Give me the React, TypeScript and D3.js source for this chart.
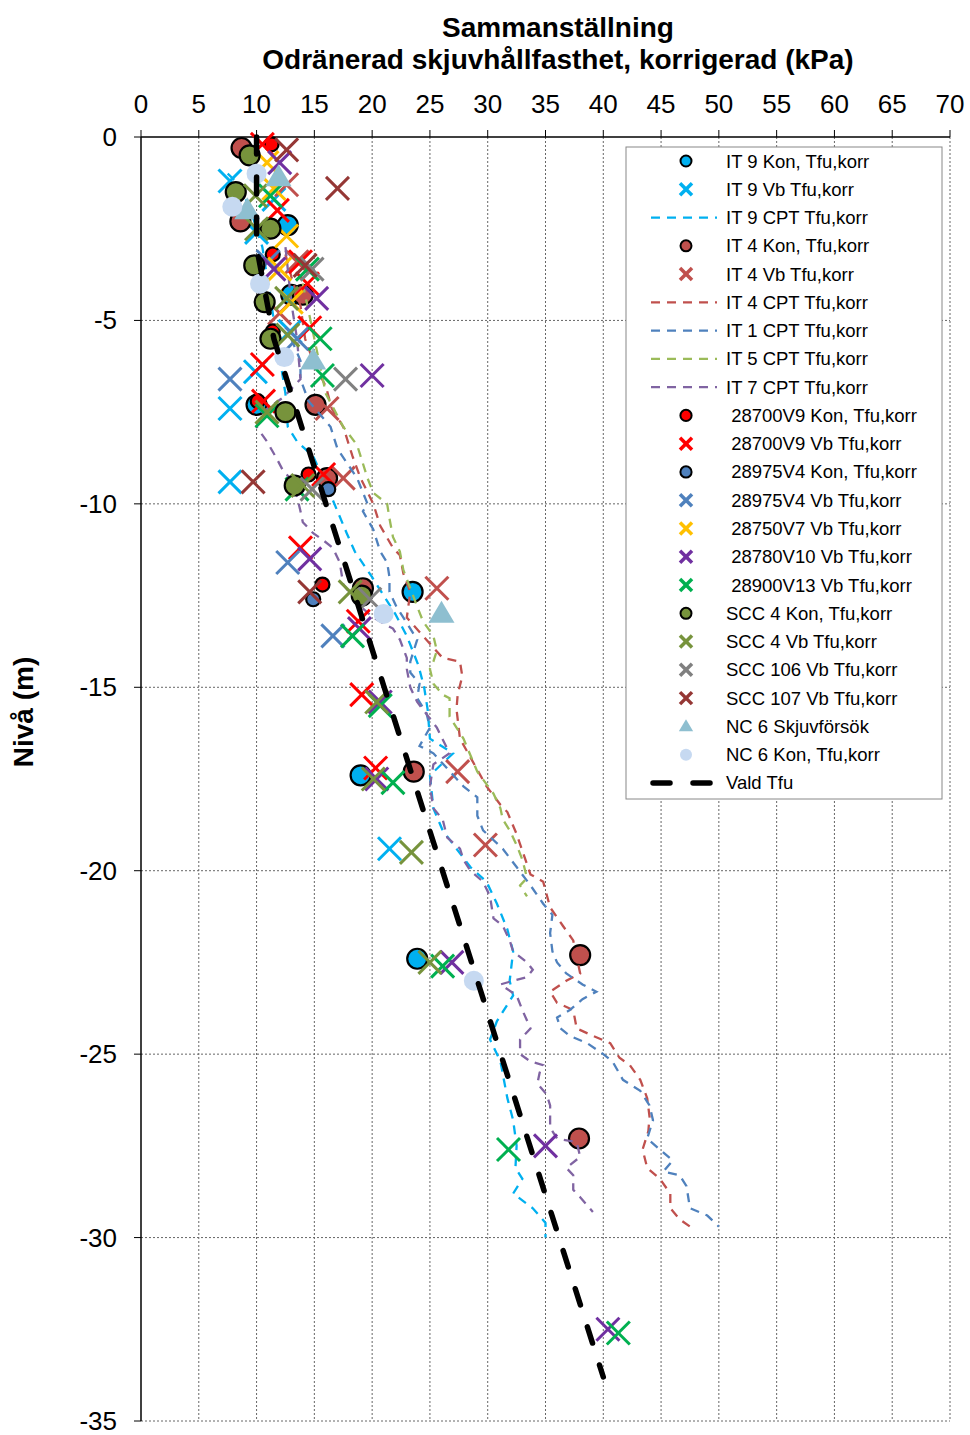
import React from 'react';
import * as d3 from 'd3';

type P = [number, number];

const xTicks = [0, 5, 10, 15, 20, 25, 30, 35, 40, 45, 50, 55, 60, 65, 70];
const yTicks = [0, -5, -10, -15, -20, -25, -30, -35];

const it9Kon: P[] = [[12.7, -2.4], [13.0, -4.3], [10.0, -7.3], [23.5, -12.4], [19.0, -17.4], [23.9, -22.4]];
const it9Vb: P[] = [[7.7, -1.2], [11.5, -1.7], [10.0, -2.6], [12.9, -5.3], [9.9, -6.4], [7.7, -7.4], [7.7, -9.4], [21.5, -19.4]];
const it9Cpt: P[] = [[7.5, -1.0], [8.5, -1.3], [9.5, -2.0], [10.5, -3.0], [11.0, -4.0], [11.5, -5.0], [12.0, -6.0], [12.5, -7.0], [12.7, -7.9], [13.5, -8.3], [14.9, -8.7], [16.6, -9.9], [17.8, -10.8], [18.5, -11.3], [20.0, -12.0], [21.0, -12.5], [22.0, -13.0], [23.0, -13.6], [24.0, -14.4], [24.5, -15.0], [24.8, -15.6], [25.0, -16.4], [27.0, -16.8], [25.0, -17.4], [25.3, -18.3], [26.1, -18.9], [27.3, -19.4], [28.5, -19.9], [29.9, -20.3], [30.8, -20.9], [31.7, -21.6], [32.2, -22.2], [31.9, -23.0], [32.2, -23.4], [30.8, -24.1], [30.2, -24.6], [31.1, -25.2], [31.7, -26.2], [32.2, -26.8], [32.5, -27.5], [32.4, -28.1], [33.0, -28.4], [32.2, -28.8], [33.9, -29.2], [35.0, -29.6], [35.0, -30.0]];
const it4Kon: P[] = [[8.7, -0.3], [8.6, -2.3], [14.0, -4.3], [15.1, -7.3], [16.1, -9.3], [19.2, -12.3], [23.6, -17.3], [38.0, -22.3], [37.9, -27.3]];
const it4Vb: P[] = [[12.6, -1.3], [13.5, -3.4], [12.0, -4.8], [16.1, -7.4], [17.5, -9.3], [25.6, -12.3], [27.4, -17.3], [29.8, -19.3]];
const it4Cpt: P[] = [[12.5, -3.2], [13.0, -3.8], [13.8, -4.6], [14.2, -5.5], [15.0, -6.2], [16.0, -6.8], [16.5, -7.4], [17.5, -7.9], [18.3, -8.7], [19.0, -9.3], [20.1, -10.0], [20.7, -10.6], [21.8, -11.2], [22.4, -11.4], [22.7, -11.9], [23.3, -12.4], [23.0, -13.1], [24.4, -13.6], [26.1, -14.2], [27.6, -14.3], [27.8, -14.7], [27.4, -15.2], [27.3, -15.6], [27.6, -16.4], [29.9, -17.7], [31.1, -18.2], [31.7, -18.4], [32.5, -19.0], [33.7, -20.1], [34.8, -20.3], [35.4, -21.0], [36.5, -21.5], [37.4, -21.9], [38.0, -22.8], [36.8, -23.0], [35.4, -23.3], [36.0, -23.6], [37.4, -23.8], [37.7, -24.3], [39.1, -24.5], [40.6, -24.7], [41.4, -25.1], [42.3, -25.3], [43.2, -25.7], [43.8, -26.2], [44.0, -26.7], [43.9, -27.1], [43.4, -27.6], [43.8, -28.1], [44.9, -28.4], [45.8, -28.8], [45.8, -29.2], [46.6, -29.5], [47.5, -29.7]];
const it1Cpt: P[] = [[13.0, -5.5], [13.8, -6.1], [13.8, -6.6], [14.5, -7.2], [16.4, -7.9], [17.0, -8.5], [18.7, -9.3], [19.6, -10.0], [19.2, -10.2], [20.1, -10.7], [20.7, -11.3], [21.3, -11.6], [21.5, -12.0], [21.5, -12.4], [22.1, -12.8], [23.9, -13.7], [23.3, -14.3], [23.3, -14.6], [24.1, -14.9], [23.9, -15.3], [24.7, -15.7], [25.0, -16.1], [24.1, -16.6], [25.3, -16.8], [27.9, -17.7], [29.1, -18.0], [29.1, -18.5], [29.6, -18.9], [31.3, -19.4], [32.5, -19.9], [33.7, -20.4], [34.8, -20.9], [35.6, -21.2], [35.4, -21.7], [35.6, -22.2], [36.0, -22.5], [36.8, -22.8], [38.2, -23.1], [39.4, -23.3], [38.2, -23.5], [37.1, -23.8], [36.0, -24.0], [36.3, -24.3], [37.1, -24.5], [38.6, -24.7], [40.0, -25.0], [40.8, -25.2], [41.7, -25.7], [43.2, -26.0], [44.0, -26.4], [44.3, -26.8], [43.8, -27.3], [44.9, -27.6], [46.0, -27.9], [45.2, -28.2], [46.6, -28.3], [47.2, -28.6], [47.5, -29.2], [49.0, -29.4], [50.0, -29.7]];
const it5Cpt: P[] = [[14.0, -4.0], [15.0, -5.5], [16.0, -7.0], [17.5, -7.9], [18.7, -8.4], [19.2, -8.9], [19.6, -9.3], [20.1, -9.7], [21.3, -10.0], [21.5, -10.4], [21.8, -10.9], [22.4, -11.3], [22.7, -11.8], [23.3, -12.3], [23.9, -12.8], [24.4, -13.2], [25.3, -13.6], [25.6, -14.0], [25.3, -14.3], [25.0, -14.5], [25.3, -14.9], [26.1, -15.2], [26.7, -15.3], [26.7, -15.8], [27.3, -16.1], [27.9, -16.4], [29.1, -17.3], [30.5, -17.9], [31.1, -18.3], [31.3, -18.6], [31.9, -18.9], [32.5, -19.3], [33.0, -19.7], [33.4, -20.2], [32.8, -20.4], [33.4, -20.7]];
const it7Cpt: P[] = [[12.5, -3.0], [13.0, -4.5], [13.5, -5.5], [13.8, -6.6], [12.3, -7.1], [10.5, -7.5], [10.0, -7.9], [10.9, -8.3], [11.8, -8.8], [12.3, -9.1], [12.9, -9.3], [13.5, -9.8], [13.8, -10.2], [14.0, -10.5], [14.9, -10.8], [15.8, -11.0], [16.6, -11.2], [17.2, -11.6], [17.5, -12.2], [19.0, -12.8], [20.1, -13.1], [21.8, -13.4], [22.4, -13.7], [23.0, -14.2], [23.0, -14.5], [23.3, -15.0], [23.9, -15.4], [25.6, -16.1], [26.7, -16.8], [25.3, -17.1], [25.0, -17.7], [25.3, -18.3], [26.1, -18.6], [26.5, -19.1], [27.6, -19.4], [27.9, -19.7], [28.5, -20.0], [29.6, -20.3], [30.2, -20.7], [30.5, -21.3], [31.3, -21.5], [31.9, -21.9], [32.2, -22.2], [33.4, -22.5], [33.9, -22.7], [33.4, -22.9], [32.2, -23.0], [31.1, -23.1], [32.5, -23.4], [33.0, -23.8], [33.7, -24.3], [32.8, -24.6], [32.8, -25.0], [33.7, -25.2], [34.8, -25.3], [34.5, -25.5], [34.3, -25.8], [35.1, -26.1], [35.4, -26.4], [35.4, -27.0], [36.0, -27.3], [37.7, -27.4], [38.0, -27.8], [36.8, -28.1], [37.4, -28.3], [37.4, -28.7], [38.0, -28.9], [39.1, -29.3]];
const v9Kon: P[] = [[11.3, -0.2], [11.4, -3.2], [11.4, -5.3], [10.1, -7.2], [14.5, -9.2], [15.7, -12.2]];
const v9Vb: P[] = [[10.5, -0.2], [11.8, -2.0], [13.8, -3.4], [14.4, -4.0], [14.6, -5.2], [10.5, -6.2], [10.6, -7.2], [15.8, -9.2], [13.8, -11.2], [18.8, -13.2], [19.1, -15.2], [20.3, -17.2]];
const v4Kon: P[] = [[16.2, -9.6], [14.9, -12.6]];
const v4Vb: P[] = [[11.0, -3.4], [13.5, -5.5], [7.7, -6.6], [12.7, -11.6], [16.6, -13.6]];
const v7Vb: P[] = [[10.9, -0.7], [11.5, -1.4], [12.6, -2.7], [12.0, -3.6], [13.0, -4.5]];
const v10Vb: P[] = [[12.0, -0.7], [11.5, -3.6], [15.2, -4.4], [20.0, -6.5], [14.6, -11.5], [18.9, -13.4], [20.7, -15.4], [20.4, -17.5], [26.9, -22.5], [35.0, -27.5], [40.4, -32.5]];
const v13Vb: P[] = [[11.2, -1.6], [14.4, -3.6], [15.5, -5.5], [15.7, -6.5], [10.9, -7.6], [13.5, -9.6], [18.3, -13.6], [20.7, -15.5], [21.8, -17.6], [26.1, -22.6], [31.8, -27.6], [41.3, -32.6]];
const scc4Kon: P[] = [[9.4, -0.5], [8.2, -1.5], [11.2, -2.5], [9.8, -3.5], [10.7, -4.5], [11.2, -5.5], [12.5, -7.5], [13.3, -9.5], [19.1, -12.5]];
const scc4Vb: P[] = [[9.9, -1.6], [10.0, -2.5], [12.6, -4.4], [12.7, -5.4], [10.9, -7.5], [14.0, -9.5], [18.1, -12.4], [20.4, -15.4], [20.1, -17.5], [23.4, -19.5], [25.0, -22.5]];
const scc106Vb: P[] = [[14.8, -3.6], [17.7, -6.6], [14.8, -9.6], [19.8, -12.6]];
const scc107Vb: P[] = [[12.6, -0.35], [17.0, -1.4], [14.2, -3.5], [9.7, -9.4], [14.6, -12.4]];
const nc6Skjuv: P[] = [[11.9, -1.1], [9.2, -2.0], [14.9, -6.1], [26.0, -13.0]];
const nc6Kon: P[] = [[10.0, -1.0], [7.9, -1.9], [10.3, -4.0], [12.4, -6.0], [21.0, -13.0], [28.8, -23.0]];
const valdTfu: P[] = [[10.0, 0.0], [10.0, -3.0], [11.5, -5.5], [13.0, -7.0], [16.0, -10.0], [40.0, -33.8]];

type Kind = 'kon' | 'konS' | 'x' | 'cpt' | 'tri' | 'nc' | 'vald';
interface Series { name: string; kind: Kind; color: string; data: P[] }

const series: Series[] = [
  { name: 'IT 9 Kon, Tfu,korr', kind: 'kon', color: '#00B0F0', data: it9Kon },
  { name: 'IT 9 Vb Tfu,korr', kind: 'x', color: '#00B0F0', data: it9Vb },
  { name: 'IT 9 CPT Tfu,korr', kind: 'cpt', color: '#00B0F0', data: it9Cpt },
  { name: 'IT 4 Kon, Tfu,korr', kind: 'kon', color: '#C0504D', data: it4Kon },
  { name: 'IT 4 Vb Tfu,korr', kind: 'x', color: '#C0504D', data: it4Vb },
  { name: 'IT 4 CPT Tfu,korr', kind: 'cpt', color: '#C0504D', data: it4Cpt },
  { name: 'IT 1 CPT Tfu,korr', kind: 'cpt', color: '#4F81BD', data: it1Cpt },
  { name: 'IT 5 CPT Tfu,korr', kind: 'cpt', color: '#9BBB59', data: it5Cpt },
  { name: 'IT 7 CPT Tfu,korr', kind: 'cpt', color: '#8064A2', data: it7Cpt },
  { name: ' 28700V9 Kon, Tfu,korr', kind: 'konS', color: '#FF0000', data: v9Kon },
  { name: ' 28700V9 Vb Tfu,korr', kind: 'x', color: '#FF0000', data: v9Vb },
  { name: ' 28975V4 Kon, Tfu,korr', kind: 'konS', color: '#4F81BD', data: v4Kon },
  { name: ' 28975V4 Vb Tfu,korr', kind: 'x', color: '#4F81BD', data: v4Vb },
  { name: ' 28750V7 Vb Tfu,korr', kind: 'x', color: '#FFC000', data: v7Vb },
  { name: ' 28780V10 Vb Tfu,korr', kind: 'x', color: '#7030A0', data: v10Vb },
  { name: ' 28900V13 Vb Tfu,korr', kind: 'x', color: '#00B050', data: v13Vb },
  { name: 'SCC 4 Kon, Tfu,korr', kind: 'kon', color: '#77933C', data: scc4Kon },
  { name: 'SCC 4 Vb Tfu,korr', kind: 'x', color: '#77933C', data: scc4Vb },
  { name: 'SCC 106 Vb Tfu,korr', kind: 'x', color: '#808080', data: scc106Vb },
  { name: 'SCC 107 Vb Tfu,korr', kind: 'x', color: '#953735', data: scc107Vb },
  { name: 'NC 6 Skjuvförsök', kind: 'tri', color: '#8EBFD0', data: nc6Skjuv },
  { name: 'NC 6 Kon, Tfu,korr', kind: 'nc', color: '#C6D9F1', data: nc6Kon },
  { name: 'Vald Tfu', kind: 'vald', color: '#000000', data: valdTfu },
];

const FONT = '"Liberation Sans", Arial, sans-serif';

function Marker({ kind, color, cx, cy, legend }: { kind: Kind; color: string; cx: number; cy: number; legend?: boolean }) {
  const s = legend ? 0.55 : 1;
  if (kind === 'kon' || kind === 'konS') {
    const r = (kind === 'kon' ? 10 : 7) * (legend ? (kind === 'kon' ? 0.55 : 0.8) : 1);
    return <circle cx={cx} cy={cy} r={r} fill={color} stroke="#000" strokeWidth={legend ? 2 : 2.2} />;
  }
  if (kind === 'nc') {
    return <circle cx={cx} cy={cy} r={legend ? 6 : 10} fill={color} />;
  }
  if (kind === 'x') {
    const h = legend ? 6 : 11.5;
    return (
      <g stroke={color} strokeWidth={legend ? 3.5 : 3}>
        <line x1={cx - h} y1={cy - h} x2={cx + h} y2={cy + h} />
        <line x1={cx - h} y1={cy + h} x2={cx + h} y2={cy - h} />
      </g>
    );
  }
  if (kind === 'tri') {
    const w = 13 * (legend ? 0.55 : 1);
    const hh = 22 * (legend ? 0.55 : 1);
    return <path d={`M${cx},${cy - hh * 0.6}L${cx + w},${cy + hh * 0.4}L${cx - w},${cy + hh * 0.4}Z`} fill={color} />;
  }
  return null;
  void s;
}

export default function App() {
  const x = d3.scaleLinear().domain([0, 70]).range([141, 950]);
  const y = d3.scaleLinear().domain([0, -35]).range([137, 1421]);
  const line = d3.line<P>().x(d => x(d[0])).y(d => y(d[1]));

  const legX = 626, legY = 147, legW = 316, legH = 652;
  const rowH = 28.27;

  return (
    <svg width={970} height={1435} style={{ position: 'absolute', left: 0, top: 0, background: '#fff' }} fontFamily={FONT}>
      <rect x={0} y={0} width={970} height={1435} fill="#fff" />
      {/* gridlines */}
      {xTicks.filter(t => t > 0).map(t => (
        <line key={'gx' + t} x1={x(t)} x2={x(t)} y1={y(0)} y2={y(-35)} stroke="#666" strokeWidth={1} strokeDasharray="2,2" />
      ))}
      {yTicks.filter(t => t < 0).map(t => (
        <line key={'gy' + t} x1={x(0)} x2={x(70)} y1={y(t)} y2={y(t)} stroke="#666" strokeWidth={1} strokeDasharray="2,2" />
      ))}
      {/* axes */}
      <line x1={x(0)} x2={x(70)} y1={y(0)} y2={y(0)} stroke="#000" strokeWidth={1.5} />
      <line x1={x(0)} x2={x(0)} y1={y(0)} y2={y(-35)} stroke="#000" strokeWidth={1.5} />
      {xTicks.map(t => (
        <g key={'xt' + t}>
          <line x1={x(t)} x2={x(t)} y1={y(0) - 7} y2={y(0)} stroke="#000" strokeWidth={1} />
          <text x={x(t)} y={113} textAnchor="middle" fontSize={26} fill="#000">{t}</text>
        </g>
      ))}
      {yTicks.map(t => (
        <g key={'yt' + t}>
          <line x1={x(0) - 7} x2={x(0)} y1={y(t)} y2={y(t)} stroke="#000" strokeWidth={1} />
          <text x={117} y={y(t) + 9} textAnchor="end" fontSize={26} fill="#000">{t}</text>
        </g>
      ))}
      {/* titles */}
      <text x={558} y={37} textAnchor="middle" fontSize={28} fontWeight="bold" fill="#000">Sammanställning</text>
      <text x={558} y={69} textAnchor="middle" fontSize={28} fontWeight="bold" fill="#000">Odränerad skjuvhållfasthet, korrigerad (kPa)</text>
      <text transform="translate(33,712) rotate(-90)" textAnchor="middle" fontSize={28} fontWeight="bold" fill="#000">Nivå (m)</text>

      {/* series */}
      {series.map((s, i) => {
        if (s.kind === 'cpt') {
          return <path key={i} d={line(s.data) || ''} fill="none" stroke={s.color} strokeWidth={2.3} strokeDasharray="9,7" />;
        }
        if (s.kind === 'vald') {
          return <path key={i} d={line(s.data) || ''} fill="none" stroke="#000" strokeWidth={5.5} strokeLinecap="round" strokeDasharray="17,23" />;
        }
        return (
          <g key={i}>
            {s.data.map((d, j) => <Marker key={j} kind={s.kind} color={s.color} cx={x(d[0])} cy={y(d[1])} />)}
          </g>
        );
      })}

      {/* legend */}
      <rect x={legX} y={legY} width={legW} height={legH} fill="#fff" stroke="#888" strokeWidth={1} />
      {series.map((s, i) => {
        const cy = 161 + i * rowH;
        let sym: React.ReactNode;
        if (s.kind === 'cpt') {
          sym = <line x1={651} x2={717} y1={cy} y2={cy} stroke={s.color} strokeWidth={2.3} strokeDasharray="9,7" />;
        } else if (s.kind === 'vald') {
          sym = <line x1={653} x2={715} y1={cy} y2={cy} stroke="#000" strokeWidth={5.5} strokeLinecap="round" strokeDasharray="17,23" />;
        } else {
          sym = <Marker kind={s.kind} color={s.color} cx={686} cy={cy} legend />;
        }
        return (
          <g key={'lg' + i}>
            {sym}
            <text x={726} y={cy + 6.5} fontSize={18.5} fill="#000" style={{ whiteSpace: 'pre' }}>{s.name}</text>
          </g>
        );
      })}
    </svg>
  );
}
